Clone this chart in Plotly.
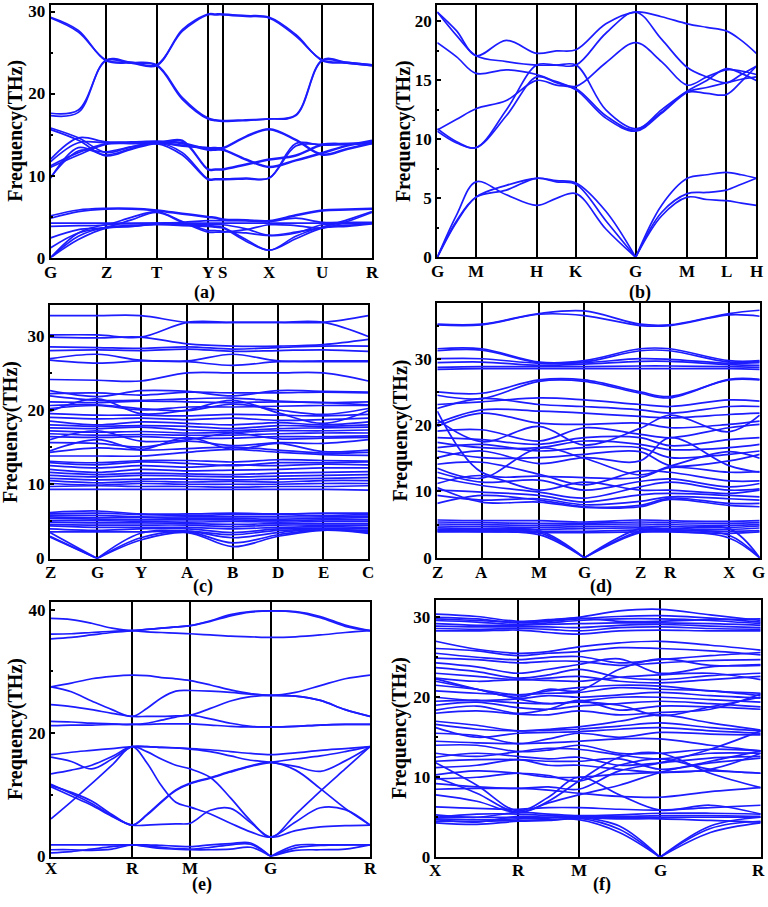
import plotly.graph_objects as go

BLUE = "#1c1cff"

# ---------------- panel (a) ----------------
a_labels = ["G", "Z", "T", "Y", "S", "X", "U", "R"]
a_nodes = [0, 55.3, 106, 157.3, 172, 218.6, 271.6, 321.3]
a_bands = [
    [29.3, 27.7, 24.0, 23.7, 23.4, 27.8, 29.7, 29.7, 29.7, 29.5, 29.3, 27.2, 24.0, 23.7, 23.4],
    [29.2, 27.5, 24.1, 23.8, 23.5, 27.6, 29.6, 29.6, 29.6, 29.4, 29.2, 27.0, 24.1, 23.8, 23.5],
    [17.6, 18.0, 24.0, 23.7, 23.4, 19.3, 16.9, 16.7, 16.6, 16.7, 16.9, 17.3, 24.0, 23.7, 23.4],
    [17.3, 17.7, 24.1, 23.8, 23.5, 19.5, 17.0, 16.8, 16.7, 16.8, 16.9, 17.4, 24.1, 23.8, 23.5],
    [15.8, 14.6, 12.8, 13.5, 14.0, 13.7, 13.4, 13.4, 13.4, 14.8, 15.7, 14.4, 12.6, 13.3, 14.0],
    [15.6, 14.3, 12.4, 13.2, 13.9, 13.6, 13.3, 13.3, 13.3, 14.7, 15.6, 14.3, 12.5, 13.2, 13.9],
    [12.0, 14.6, 14.1, 14.1, 14.2, 14.0, 13.2, 13.2, 13.2, 12.0, 11.1, 11.9, 12.8, 13.7, 14.3],
    [11.7, 14.0, 14.0, 14.0, 14.1, 13.9, 13.1, 13.1, 13.1, 11.9, 11.0, 11.8, 12.7, 13.6, 14.2],
    [11.2, 12.8, 13.9, 14.0, 14.0, 14.3, 10.8, 10.8, 10.8, 11.4, 12.0, 12.5, 13.8, 13.9, 14.0],
    [11.0, 12.5, 13.8, 13.9, 13.9, 14.2, 10.7, 10.7, 10.7, 11.3, 11.9, 12.4, 13.7, 13.8, 14.0],
    [9.7, 13.4, 12.5, 13.3, 14.0, 12.8, 9.6, 9.6, 9.6, 9.7, 9.7, 13.9, 13.7, 13.8, 13.9],
    [9.8, 13.0, 12.9, 13.5, 13.9, 12.5, 9.5, 9.5, 9.5, 9.6, 9.7, 13.6, 13.8, 13.9, 14.0],
    [5.1, 5.8, 6.0, 6.0, 5.8, 5.4, 5.0, 4.9, 4.7, 4.6, 4.5, 5.2, 5.8, 5.9, 6.0],
    [4.8, 5.6, 5.9, 5.9, 5.7, 5.3, 4.9, 4.8, 4.6, 4.5, 4.4, 5.1, 5.7, 5.8, 5.9],
    [4.2, 4.2, 4.2, 4.2, 4.2, 4.2, 4.2, 4.2, 4.2, 4.2, 4.2, 4.2, 4.2, 4.2, 4.2],
    [3.8, 3.9, 4.0, 4.9, 5.6, 4.4, 3.3, 3.3, 3.2, 3.0, 2.7, 3.1, 3.7, 4.6, 5.6],
    [2.4, 3.4, 3.7, 4.6, 5.5, 4.3, 3.1, 3.1, 3.1, 3.4, 4.0, 3.9, 3.6, 4.4, 5.5],
    [1.2, 3.0, 3.6, 3.8, 4.1, 4.0, 3.9, 3.8, 3.7, 2.2, 0.9, 2.6, 3.7, 3.9, 4.2],
    [0.0, 2.2, 3.6, 3.8, 4.0, 3.9, 3.8, 3.7, 3.6, 2.0, 0.9, 2.3, 3.6, 3.8, 4.1],
    [0.0, 2.6, 3.7, 3.9, 4.1, 4.1, 4.0, 4.0, 4.0, 3.5, 2.7, 3.0, 4.0, 4.1, 4.2],
    [0.0, 3.0, 4.0, 4.1, 4.2, 4.3, 4.5, 4.5, 4.5, 4.5, 4.4, 4.8, 4.3, 4.3, 4.3],
]
a_acoustic = []

# ---------------- panel (b) ----------------
b_labels = ["G", "M", "H", "K", "G", "M", "L", "H"]
b_nodes = [0, 38.7, 99.4, 138.7, 198.4, 250, 289, 319]
b_bands = [
    [20.8, 19.2, 17.1, 18.4, 17.3, 17.5, 17.6, 19.8, 20.8, 20.4, 19.8, 19.5, 19.2, 18.4, 17.3],
    [20.8, 18.8, 17.1, 16.6, 16.3, 16.3, 16.3, 19.0, 20.8, 18.5, 16.1, 15.3, 14.8, 15.5, 16.2],
    [18.2, 17.0, 15.6, 15.9, 15.5, 14.9, 14.5, 16.5, 18.2, 16.6, 14.6, 15.3, 15.9, 15.8, 15.5],
    [10.8, 11.7, 12.6, 13.3, 15.0, 14.6, 14.3, 12.0, 10.8, 12.5, 14.1, 15.0, 16.0, 15.6, 15.0],
    [10.9, 9.8, 9.3, 12.5, 16.3, 16.3, 16.3, 12.5, 10.9, 12.3, 14.0, 13.9, 13.8, 14.9, 16.2],
    [10.7, 9.7, 9.3, 12.0, 15.3, 14.8, 14.2, 11.8, 10.7, 12.2, 14.0, 14.4, 14.8, 15.1, 15.3],
]
b_acoustic = [
    [0.0, 3.6, 6.4, 5.3, 4.4, 5.0, 5.4, 2.4, 0.0, 4.4, 6.7, 7.0, 7.2, 7.0, 6.7],
    [0.0, 3.0, 5.1, 6.1, 6.7, 6.5, 6.3, 3.9, 0.0, 3.8, 5.4, 5.5, 5.7, 6.2, 6.7],
    [0.0, 3.1, 5.1, 5.7, 6.7, 6.4, 6.2, 3.1, 0.0, 3.5, 5.1, 4.9, 4.8, 4.6, 4.4],
]

# ---------------- panel (c) ----------------
c_labels = ["Z", "G", "Y", "A", "B", "D", "E", "C"]
c_nodes = [0, 47.3, 90.7, 137.3, 182.7, 228.3, 273.3, 318.3]
c_bands = [
    [32.7, 32.7, 32.7, 31.8, 31.8, 31.8, 31.8, 32.7],
    [30.1, 30.1, 29.8, 31.8, 31.8, 31.8, 31.8, 29.9],
    [29.8, 29.7, 29.8, 28.9, 28.6, 28.6, 28.8, 29.5],
    [28.5, 28.4, 28.3, 28.5, 28.2, 28.4, 28.6, 28.6],
    [28.0, 28.1, 28.0, 28.2, 27.9, 28.0, 28.1, 27.9],
    [26.9, 27.5, 26.7, 26.6, 27.5, 26.6, 26.6, 26.6],
    [26.7, 26.3, 26.6, 26.5, 26.0, 26.5, 26.5, 26.5],
    [24.1, 24.0, 23.9, 25.0, 25.0, 25.0, 25.0, 23.9],
    [22.6, 21.8, 22.6, 22.5, 21.9, 22.6, 22.5, 22.4],
    [22.2, 22.3, 22.0, 22.4, 22.3, 22.3, 22.4, 22.3],
    [21.9, 21.3, 21.3, 21.5, 21.6, 21.2, 21.0, 21.1],
    [21.1, 21.0, 21.2, 21.1, 21.0, 21.1, 21.0, 20.7],
    [20.6, 20.7, 20.2, 19.9, 20.8, 20.0, 19.4, 20.2],
    [20.2, 20.6, 20.0, 20.4, 20.4, 20.5, 20.6, 20.6],
    [19.8, 21.5, 19.5, 20.0, 21.3, 19.6, 18.2, 19.9],
    [19.5, 19.3, 19.3, 19.2, 19.4, 19.3, 19.2, 19.4],
    [19.0, 18.8, 18.9, 18.7, 18.9, 18.6, 18.7, 18.9],
    [18.5, 18.0, 18.4, 18.2, 18.0, 18.3, 18.0, 18.4],
    [18.0, 17.8, 17.9, 17.8, 17.5, 17.9, 17.8, 18.0],
    [17.6, 17.5, 17.7, 17.3, 17.2, 17.5, 17.6, 17.7],
    [17.2, 17.0, 17.1, 16.9, 17.0, 17.2, 17.2, 17.3],
    [16.8, 16.6, 16.7, 16.6, 16.6, 16.8, 16.9, 16.9],
    [16.4, 16.3, 16.4, 16.2, 16.2, 16.4, 16.4, 16.5],
    [16.0, 17.2, 15.8, 16.0, 16.9, 16.1, 16.2, 16.3],
    [15.6, 15.5, 15.0, 15.8, 15.2, 15.6, 15.5, 16.0],
    [14.5, 16.0, 14.7, 16.3, 14.7, 15.5, 14.4, 14.6],
    [14.3, 14.9, 14.6, 14.8, 15.0, 14.6, 14.2, 14.3],
    [13.8, 13.8, 13.8, 14.3, 14.7, 14.3, 14.0, 13.9],
    [13.1, 12.9, 13.2, 13.2, 13.0, 13.3, 13.2, 13.1],
    [12.9, 12.6, 13.0, 12.8, 12.5, 12.9, 12.9, 13.0],
    [12.5, 12.2, 12.5, 12.3, 12.6, 12.5, 12.7, 12.6],
    [12.0, 11.6, 12.0, 11.8, 11.9, 12.0, 12.2, 12.2],
    [11.6, 11.3, 11.5, 11.4, 11.3, 11.5, 11.6, 11.7],
    [11.2, 11.0, 11.2, 11.1, 11.0, 11.1, 11.2, 11.3],
    [10.8, 10.6, 10.7, 10.7, 10.6, 10.7, 10.8, 10.9],
    [10.5, 10.2, 10.4, 10.3, 10.4, 10.3, 10.5, 10.5],
    [10.1, 9.9, 10.1, 10.0, 10.0, 10.0, 10.1, 10.1],
    [9.7, 9.8, 9.7, 9.7, 9.6, 9.7, 9.7, 9.8],
    [9.3, 9.3, 9.3, 9.3, 9.3, 9.3, 9.3, 9.2],
    [6.2, 6.4, 6.0, 6.0, 6.1, 6.0, 6.1, 6.1],
    [6.0, 6.1, 5.9, 5.8, 5.9, 5.9, 5.8, 5.9],
    [5.8, 5.8, 5.6, 5.6, 5.6, 5.6, 5.6, 5.7],
    [5.6, 5.5, 5.5, 5.4, 5.4, 5.3, 5.4, 5.5],
    [5.4, 5.3, 5.2, 5.2, 5.2, 5.1, 5.2, 5.2],
    [5.1, 5.1, 5.0, 4.9, 5.0, 4.9, 5.0, 5.0],
    [4.9, 4.8, 4.8, 4.7, 4.6, 4.7, 4.7, 4.7],
    [4.6, 4.5, 4.5, 4.5, 4.3, 4.5, 4.5, 4.5],
    [4.4, 4.2, 4.2, 4.2, 4.0, 4.2, 4.3, 4.2],
    [4.0, 3.8, 4.0, 4.0, 3.5, 4.0, 4.1, 4.0],
    [3.6, 3.6, 3.6, 3.7, 3.2, 3.8, 3.9, 3.8],
]
c_acoustic = [
    [2.9, 0.0, 2.5, 3.5, 1.6, 3.0, 3.8, 3.4],
    [3.0, 0.0, 2.8, 3.6, 2.1, 3.2, 3.9, 3.5],
    [3.5, 0.0, 3.4, 3.7, 2.8, 3.5, 4.0, 3.6],
]

# ---------------- panel (d) ----------------
d_labels = ["Z", "A", "M", "G", "Z", "R", "X", "G"]
d_nodes = [0, 44.4, 101.7, 147, 202.7, 232.7, 291.7, 322.4]
d_bands = [
    [35.2, 35.2, 36.8, 37.2, 35.2, 35.1, 36.8, 37.3],
    [35.1, 35.1, 36.7, 36.5, 35.0, 35.0, 36.6, 36.4],
    [31.5, 31.5, 29.5, 29.7, 31.5, 31.5, 29.7, 29.7],
    [31.2, 31.3, 29.4, 29.5, 31.2, 31.2, 29.5, 29.6],
    [30.0, 30.0, 29.3, 29.4, 30.0, 29.9, 29.3, 29.4],
    [29.4, 29.5, 29.0, 29.2, 29.6, 29.6, 29.1, 29.0],
    [28.7, 28.8, 28.8, 28.8, 28.9, 28.9, 28.8, 28.7],
    [28.4, 28.5, 28.5, 28.5, 28.5, 28.5, 28.5, 28.4],
    [25.0, 24.8, 26.8, 26.8, 25.0, 24.3, 26.8, 26.8],
    [24.5, 24.0, 26.6, 26.6, 24.8, 24.1, 26.9, 26.9],
    [23.1, 23.5, 24.1, 23.8, 23.1, 22.8, 23.8, 23.6],
    [22.5, 24.0, 23.1, 22.8, 22.3, 21.8, 22.8, 22.8],
    [22.1, 12.9, 12.3, 12.1, 12.1, 13.6, 12.9, 13.0],
    [20.3, 22.3, 22.1, 21.8, 21.3, 21.1, 21.6, 21.8],
    [19.8, 21.8, 20.3, 20.1, 20.3, 19.6, 20.1, 20.6],
    [19.1, 19.3, 17.6, 19.6, 18.6, 18.1, 19.6, 20.1],
    [18.1, 17.8, 17.1, 18.1, 18.1, 16.9, 17.8, 18.1],
    [17.4, 16.6, 16.6, 17.6, 17.1, 16.3, 16.6, 17.1],
    [16.6, 17.1, 16.1, 16.6, 16.6, 15.1, 15.6, 16.1],
    [16.1, 15.1, 15.1, 15.6, 16.0, 13.9, 14.6, 15.6],
    [15.1, 16.1, 14.2, 15.1, 14.6, 18.1, 13.9, 12.9],
    [14.1, 14.4, 12.6, 11.0, 13.1, 12.9, 11.6, 11.6],
    [12.9, 11.4, 11.7, 10.2, 11.5, 11.9, 10.7, 11.2],
    [12.1, 10.9, 9.9, 9.0, 10.7, 11.4, 10.2, 10.4],
    [11.2, 12.4, 10.2, 11.4, 10.2, 10.2, 9.7, 10.2],
    [10.2, 9.9, 9.4, 8.4, 9.5, 9.7, 9.4, 9.2],
    [9.4, 8.7, 8.9, 8.0, 8.5, 9.2, 8.9, 8.7],
    [8.2, 9.4, 8.7, 7.7, 7.9, 9.0, 8.2, 8.2],
    [10.6, 8.4, 8.4, 7.6, 7.7, 8.8, 7.9, 7.7],
    [13.5, 12.0, 16.5, 15.0, 12.5, 13.8, 16.0, 15.0],
    [20.8, 17.5, 19.8, 17.0, 19.5, 21.5, 19.0, 21.5],
    [5.7, 5.6, 5.6, 5.4, 5.7, 5.6, 5.5, 5.6],
    [5.4, 5.3, 5.2, 5.2, 5.4, 5.3, 5.2, 5.3],
    [5.1, 5.0, 4.9, 5.0, 5.1, 5.0, 4.9, 5.0],
    [4.8, 4.7, 4.6, 4.7, 4.8, 4.7, 4.6, 4.8],
    [4.5, 4.4, 4.3, 4.4, 4.5, 4.4, 4.3, 4.5],
    [4.2, 4.2, 4.0, 4.0, 4.2, 4.2, 4.0, 4.1],
    [4.0, 4.0, 3.8, 3.8, 3.9, 3.9, 3.7, 3.9],
]
d_acoustic = [
    [3.9, 3.9, 3.5, 0.0, 3.8, 4.0, 3.0, 0.0],
    [4.1, 4.0, 3.8, 0.0, 4.0, 4.1, 3.4, 0.0],
    [4.3, 4.2, 4.1, 0.0, 4.4, 4.3, 4.4, 0.0],
]

# ---------------- panel (e) ----------------
e_labels = ["X", "R", "M", "G", "R"]
e_nodes = [0, 81.3, 139.3, 219.7, 319]
e_bands = [
    [38.6, 38.4, 37.8, 37.0, 36.6, 36.8, 37.0, 37.2, 37.4, 38.2, 39.2, 39.7, 39.8, 39.7, 38.9, 37.5, 36.6],
    [36.05, 36.1, 36.3, 36.5, 36.6, 36.4, 36.3, 36.2, 36.1, 35.9, 35.7, 35.6, 35.5, 35.6, 35.9, 36.3, 36.6],
    [35.25, 35.5, 35.9, 36.3, 36.6, 36.8, 37.0, 37.2, 37.4, 38.1, 39.0, 39.6, 39.8, 39.6, 38.7, 37.3, 36.6],
    [27.5, 28.1, 28.8, 29.2, 29.4, 29.3, 29.0, 28.8, 28.5, 27.8, 27.0, 26.4, 26.1, 26.6, 27.7, 28.8, 29.4],
    [27.5, 26.7, 25.2, 23.8, 22.7, 24.0, 25.7, 26.8, 26.9, 26.8, 26.6, 26.3, 26.1, 26.0, 25.3, 23.8, 22.7],
    [24.6, 24.3, 23.8, 23.2, 22.7, 22.7, 22.7, 22.8, 22.9, 24.0, 25.2, 25.9, 26.1, 26.0, 25.3, 23.8, 22.7],
    [21.9, 21.8, 21.6, 21.5, 21.4, 21.4, 21.5, 21.5, 21.5, 21.3, 21.1, 21.0, 21.0, 21.1, 21.3, 21.4, 21.4],
    [21.2, 21.3, 21.3, 21.4, 21.4, 21.6, 22.1, 22.6, 22.9, 22.3, 21.6, 21.1, 21.0, 21.1, 21.3, 21.4, 21.4],
    [16.5, 16.9, 17.2, 17.5, 17.8, 17.8, 17.7, 17.6, 17.5, 17.3, 17.0, 16.7, 16.5, 16.8, 17.2, 17.5, 17.8],
    [16.1, 15.4, 14.2, 15.8, 17.8, 17.8, 17.7, 17.6, 17.4, 17.0, 16.3, 15.6, 15.25, 14.6, 13.8, 15.5, 17.8],
    [13.4, 14.0, 14.8, 16.2, 17.8, 17.0, 15.8, 14.8, 14.2, 12.8, 9.5, 5.8, 3.15, 6.8, 10.6, 14.2, 17.8],
    [6.1, 8.9, 11.8, 14.8, 17.8, 15.2, 11.5, 8.8, 8.0, 6.9, 5.4, 4.0, 3.15, 5.6, 7.9, 7.6, 5.1],
    [11.5, 10.4, 9.0, 6.8, 5.1, 6.8, 8.9, 10.8, 11.9, 12.8, 13.8, 14.7, 15.25, 14.0, 11.0, 7.8, 5.1],
    [11.3, 9.8, 8.3, 6.5, 5.1, 5.1, 5.2, 5.3, 5.4, 7.5, 7.8, 5.5, 3.15, 4.2, 4.8, 5.0, 5.1],
    [11.7, 10.2, 8.6, 6.6, 5.1, 6.7, 8.8, 10.7, 11.8, 12.7, 13.7, 14.6, 15.25, 15.8, 16.3, 17.0, 17.8],
]
e_acoustic = [
    [1.9, 1.9, 1.9, 1.9, 1.9, 1.9, 1.8, 1.7, 1.6, 1.9, 2.1, 2.2, 0.0, 1.8, 1.9, 1.9, 1.9],
    [0.6, 0.8, 1.2, 1.6, 1.9, 1.7, 1.5, 1.3, 1.2, 1.5, 1.9, 2.0, 0.0, 1.4, 1.8, 1.9, 1.9],
    [1.1, 1.1, 1.0, 1.2, 1.9, 1.6, 1.3, 1.2, 1.1, 1.1, 1.2, 1.5, 0.0, 1.0, 1.1, 1.2, 1.9],
]

# ---------------- panel (f) ----------------
f_labels = ["X", "R", "M", "G", "R"]
f_nodes = [0, 82.3, 143, 224.3, 325]
f_bands = [
    [30.4, 30.1, 29.5, 29.7, 30.0, 30.8, 31.0, 30.3, 29.6],
    [30.0, 29.8, 29.3, 29.5, 29.8, 30.1, 30.2, 29.9, 29.4],
    [29.6, 29.4, 29.1, 29.3, 29.6, 29.8, 29.8, 29.6, 29.2],
    [29.2, 29.0, 29.0, 29.1, 29.2, 29.3, 29.3, 29.2, 29.0],
    [28.9, 28.8, 28.8, 28.8, 28.7, 29.0, 29.1, 28.9, 28.7],
    [28.6, 28.5, 28.6, 28.5, 28.3, 28.7, 28.8, 28.6, 28.5],
    [28.3, 28.3, 28.4, 28.1, 27.9, 28.3, 28.4, 28.3, 28.3],
    [29.8, 29.6, 29.4, 29.6, 29.9, 29.5, 29.5, 29.7, 29.8],
    [27.0, 26.0, 25.5, 25.7, 26.3, 26.8, 27.0, 26.5, 25.9],
    [26.1, 25.8, 25.2, 25.5, 25.7, 26.2, 26.1, 25.8, 25.3],
    [25.5, 25.0, 24.7, 25.0, 25.1, 24.3, 24.7, 25.2, 25.6],
    [24.9, 24.7, 24.3, 24.5, 24.5, 24.0, 24.3, 24.6, 24.7],
    [24.3, 23.8, 23.0, 23.5, 24.1, 24.8, 23.0, 23.8, 24.1],
    [23.7, 23.2, 22.4, 22.8, 23.5, 22.5, 22.2, 22.7, 23.0],
    [23.0, 22.6, 22.2, 22.4, 22.6, 22.0, 21.8, 22.2, 22.6],
    [22.4, 22.0, 22.2, 22.1, 22.0, 22.5, 22.8, 23.0, 22.2],
    [22.0, 21.0, 20.0, 21.0, 20.8, 23.5, 24.8, 24.0, 24.0],
    [21.5, 21.0, 20.3, 20.8, 21.2, 21.5, 21.4, 20.8, 20.5],
    [20.8, 20.5, 20.3, 20.5, 20.6, 21.2, 21.0, 20.8, 20.2],
    [20.0, 19.6, 19.8, 20.2, 20.0, 20.3, 20.6, 20.2, 19.9],
    [19.5, 19.6, 19.3, 19.2, 19.5, 20.0, 20.0, 19.7, 19.4],
    [19.0, 19.4, 18.7, 18.5, 18.9, 19.2, 19.5, 19.2, 18.8],
    [18.4, 18.9, 18.0, 18.5, 19.6, 18.4, 18.9, 18.8, 18.5],
    [18.0, 18.3, 17.9, 17.8, 18.3, 17.8, 18.1, 18.5, 20.4],
    [22.3, 21.0, 19.8, 19.2, 19.4, 19.0, 17.7, 18.8, 20.0],
    [17.0, 16.5, 15.8, 16.0, 16.3, 17.0, 17.8, 16.8, 15.9],
    [16.6, 16.0, 15.8, 15.9, 16.0, 16.4, 16.8, 16.2, 15.8],
    [16.2, 15.0, 15.5, 15.6, 15.7, 16.0, 16.2, 15.8, 15.5],
    [15.5, 15.2, 14.2, 14.8, 15.5, 15.0, 15.6, 15.4, 15.3],
    [14.5, 14.3, 14.2, 14.3, 14.5, 14.8, 14.8, 14.0, 13.3],
    [14.0, 14.0, 13.2, 13.4, 14.0, 13.0, 13.0, 13.5, 13.3],
    [13.0, 12.6, 13.2, 13.6, 13.5, 12.8, 12.3, 13.0, 13.0],
    [12.5, 13.0, 12.6, 12.3, 12.5, 11.5, 11.8, 12.4, 12.6],
    [12.0, 12.2, 12.2, 12.0, 12.0, 12.3, 11.0, 11.8, 12.4],
    [11.2, 11.5, 12.2, 11.5, 11.5, 11.0, 10.6, 11.0, 13.0],
    [10.3, 10.8, 10.5, 10.0, 10.0, 10.4, 10.6, 10.8, 10.5],
    [9.8, 10.0, 10.5, 10.2, 9.5, 11.5, 12.3, 11.0, 10.5],
    [9.2, 8.8, 8.6, 8.8, 8.5, 10.8, 11.8, 13.5, 15.8],
    [8.5, 8.6, 8.6, 8.4, 8.0, 7.6, 7.5, 8.2, 8.7],
    [7.8, 7.0, 5.6, 6.8, 7.8, 9.0, 10.6, 12.0, 13.3],
    [10.0, 8.0, 5.6, 7.0, 9.5, 12.5, 13.0, 10.5, 8.7],
    [11.8, 9.0, 5.8, 7.5, 10.0, 7.8, 5.9, 6.5, 5.4],
    [6.3, 6.1, 6.0, 6.2, 6.2, 6.0, 5.9, 6.2, 6.5],
    [5.3, 5.0, 5.6, 5.4, 5.2, 5.3, 5.5, 5.5, 5.4],
    [5.0, 5.4, 5.4, 5.2, 5.1, 5.1, 5.2, 5.2, 5.1],
    [4.7, 4.4, 5.1, 5.0, 5.0, 5.0, 5.0, 5.0, 5.0],
    [4.3, 4.1, 4.5, 4.6, 4.9, 4.8, 4.8, 4.6, 4.4],
]
f_acoustic = [
    [4.5, 4.5, 4.6, 4.7, 4.7, 3.1, 0.0, 3.1, 4.3],
    [4.8, 4.7, 4.8, 4.9, 4.9, 3.5, 0.0, 3.6, 4.5],
    [5.0, 5.0, 5.0, 5.0, 5.0, 3.9, 0.0, 3.9, 5.0],
]

# ---------------- layout helpers ----------------
W, H = 768, 907
SERIF = "Liberation Serif"

panels = [
    # name, nodes, labels, subdivisions, bands, acoustic, break index, ymax, ytick,
    # frame px (x0, x1, ytop, ybot), title x, panel-label pos, path-label y
    ("a", a_nodes, a_labels, 2, a_bands, a_acoustic, None, 30.8, 10, (50.7, 372, 3, 259), 15.5, (204, 294), 274),
    ("b", b_nodes, b_labels, 2, b_bands, b_acoustic, 8, 21.4, 5, (437.3, 756.3, 3, 258.7), 403, (640, 294), 273),
    ("c", c_nodes, c_labels, 1, c_bands, c_acoustic, 1, 34.1, 10, (50, 368.3, 307.3, 564), 11, (203, 592), 578),
    ("d", d_nodes, d_labels, 1, d_bands, d_acoustic, 3, 38.4, 10, (437.3, 759.7, 305, 563.3), 400, (601, 592), 578),
    ("e", e_nodes, e_labels, 4, e_bands, e_acoustic, 12, 41.2, 20, (51, 370, 608.3, 866), 15.5, (202, 894), 878),
    ("f", f_nodes, f_labels, 2, f_bands, f_acoustic, 6, 32.2, 10, (435.7, 760.7, 605.7, 866.7), 399.5, (602, 894), 880),
]


def sample_x(nodes, nsub):
    xs = []
    for i in range(len(nodes) - 1):
        for j in range(nsub):
            xs.append(nodes[i] + (nodes[i + 1] - nodes[i]) * j / nsub)
    xs.append(nodes[-1])
    return xs


def pieces(xs, bands, brk):
    X, Y = [], []
    for b in bands:
        cuts = [0]
        if brk is not None and 0 < brk < len(xs) - 1:
            cuts.append(brk)
        cuts.append(len(xs) - 1)
        for s, e in zip(cuts[:-1], cuts[1:]):
            X += xs[s:e + 1] + [None]
            Y += list(b[s:e + 1]) + [None]
    return X, Y


fig = go.Figure()
annotations = []
layout_axes = {}

for i, (name, nodes, labels, nsub, bands, acoustic, brk, ymax, ydt, frame, tx, lab, ly) in enumerate(panels):
    n = "" if i == 0 else str(i + 1)
    xs = sample_x(nodes, nsub)
    X1, Y1 = pieces(xs, bands, None)
    X2, Y2 = pieces(xs, acoustic, brk)
    for X, Y in ((X1, Y1), (X2, Y2)):
        if not X:
            continue
        fig.add_trace(go.Scatter(
            x=X, y=Y, mode="lines", xaxis="x" + n, yaxis="y" + n,
            line=dict(color=BLUE, width=1.7, shape="spline", smoothing=1.0),
            connectgaps=False, hoverinfo="skip", showlegend=False))

    x0, x1, yt, yb = frame
    layout_axes["xaxis" + n] = dict(
        domain=[x0 / W, x1 / W], anchor="y" + n, range=[nodes[0], nodes[-1]],
        tickmode="array", tickvals=nodes, showticklabels=False,
        showgrid=True, gridcolor="black", gridwidth=1.6,
        showline=True, mirror=True, linecolor="black", linewidth=2.2,
        ticks="", zeroline=False)
    layout_axes["yaxis" + n] = dict(
        domain=[1 - yb / H, 1 - yt / H], anchor="x" + n, range=[0, ymax],
        tickmode="linear", tick0=0, dtick=ydt,
        showgrid=False, zeroline=False,
        showline=True, mirror=True, linecolor="black", linewidth=2.2,
        ticks="inside", ticklen=4, tickwidth=1.5, tickcolor="black",
        minor=dict(dtick=ydt / 2, ticks="inside", ticklen=2, tickcolor="black"),
        tickfont=dict(family=SERIF, size=17, color="black", weight="bold"))
    # k-path labels under each node
    for xv, t in zip(nodes, labels):
        px = x0 + (xv - nodes[0]) / (nodes[-1] - nodes[0]) * (x1 - x0)
        anchor = "center"
        if px + 8 > W - 2:
            px, anchor = W - 2, "right"
        annotations.append(dict(
            text=t, xref="paper", yref="paper", x=px / W, y=1 - ly / H,
            showarrow=False, xanchor=anchor, yanchor="middle", borderpad=0,
            font=dict(family=SERIF, size=17, color="black", weight="bold")))
    annotations.append(dict(
        text="Frequency(THz)", textangle=-90, xref="paper", yref="paper",
        x=tx / W, y=1 - (yt + yb) / 2 / H, showarrow=False,
        xanchor="center", yanchor="middle",
        font=dict(family=SERIF, size=20, color="black", weight="bold")))
    annotations.append(dict(
        text="(" + name + ")", xref="paper", yref="paper",
        x=lab[0] / W, y=1 - lab[1] / H, showarrow=False,
        xanchor="center", yanchor="middle",
        font=dict(family=SERIF, size=18, color="black", weight="bold")))

fig.update_layout(
    width=W, height=H, margin=dict(l=0, r=0, t=0, b=0),
    paper_bgcolor="white", plot_bgcolor="white",
    annotations=annotations, **layout_axes)

fig.write_html(
    "out.html",
    config={"displayModeBar": False},
    post_script="document.body.style.margin='0px';document.body.style.overflow='hidden';")
